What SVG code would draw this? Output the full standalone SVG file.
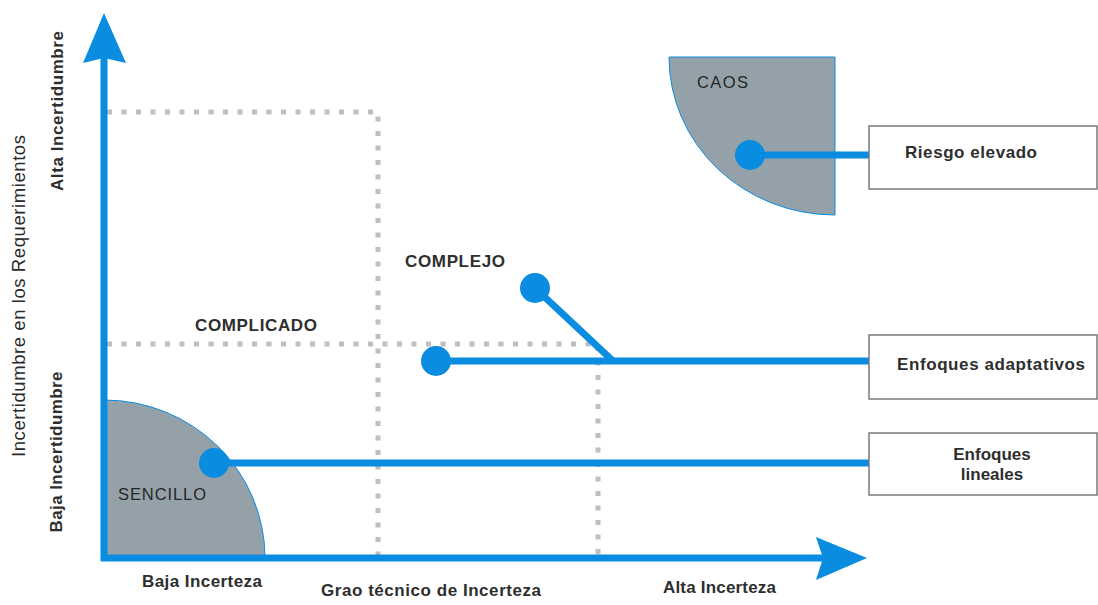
<svg xmlns="http://www.w3.org/2000/svg" width="1098" height="605" viewBox="0 0 1098 605">
<style>
.ax{stroke:#0a8ce0;stroke-width:7;fill:none}
.head{fill:#0a8ce0}
.grid{stroke:#bfbfbf;stroke-width:5;stroke-dasharray:5 9.5;fill:none}
.zone{fill:#95a1a8;stroke:#0a8ce0;stroke-width:1}
.conn{stroke:#0a8ce0;stroke-width:7;fill:none}
.dot{fill:#0a8ce0}
.box{fill:#fff;stroke:#7a7a7a;stroke-width:1.5}
.lb{font-family:"Liberation Sans",Arial,sans-serif;font-weight:bold;font-size:17px;fill:#2e2e2e}
.lr{font-family:"Liberation Sans",Arial,sans-serif;font-size:18.5px;fill:#2a2a2a}
.zn{font-family:"Liberation Sans",Arial,sans-serif;font-size:16.5px;fill:#262626}
</style>
<rect width="1098" height="605" fill="#fff"/>
<g id="zones">
  <g id="sencillo">
    <path class="zone" d="M104,400 A161,158 0 0 1 265,558 L104,558 Z"/>
    <text class="zn" x="118" y="500" textLength="88" lengthAdjust="spacing">SENCILLO</text>
  </g>
  <g id="caos">
    <path class="zone" d="M669,57 L835,57 L835,215 A166,158 0 0 1 669,57 Z"/>
    <text class="zn" x="697" y="88" textLength="51" lengthAdjust="spacing">CAOS</text>
  </g>
</g>
<g id="grid">
  <path class="grid" d="M107,112 H378 V556"/>
  <path class="grid" d="M107,344 H598 V556"/>
</g>
<g id="axes">
  <line class="ax" x1="104" y1="561" x2="104" y2="58"/>
  <polygon class="head" points="104,13 126,63 104,58 83,63"/>
  <line class="ax" x1="101" y1="558" x2="823" y2="558"/>
  <polygon class="head" points="867,558 816,580 823,558 816,537"/>
</g>
<g id="axis-labels">
  <text class="lr" transform="translate(25,296) rotate(-90)" text-anchor="middle" textLength="322" lengthAdjust="spacing">Incertidumbre en los Requerimientos</text>
  <text class="lb" transform="translate(63,111) rotate(-90)" text-anchor="middle" textLength="160" lengthAdjust="spacing">Alta Incertidumbre</text>
  <text class="lb" transform="translate(62,452) rotate(-90)" text-anchor="middle" textLength="161" lengthAdjust="spacing">Baja Incertidumbre</text>
  <text class="lb" x="142" y="587" textLength="120" lengthAdjust="spacing">Baja Incerteza</text>
  <text class="lb" x="321" y="596" textLength="220" lengthAdjust="spacing">Grao técnico de Incerteza</text>
  <text class="lb" x="663" y="593" textLength="113" lengthAdjust="spacing">Alta Incerteza</text>
  <text class="lb" x="195" y="331" textLength="122" lengthAdjust="spacing">COMPLICADO</text>
  <text class="lb" x="405" y="267" textLength="100" lengthAdjust="spacing">COMPLEJO</text>
</g>
<g id="connectors">
  <line class="conn" x1="214" y1="463" x2="869" y2="463"/>
  <line class="conn" x1="436" y1="361" x2="869" y2="361"/>
  <line class="conn" x1="535" y1="288" x2="613" y2="361"/>
  <line class="conn" x1="750" y1="155" x2="869" y2="155"/>
  <circle class="dot" cx="214" cy="463" r="15"/>
  <circle class="dot" cx="436" cy="361" r="15"/>
  <circle class="dot" cx="535" cy="288" r="15"/>
  <circle class="dot" cx="750" cy="155" r="15"/>
</g>
<g id="riesgo-elevado">
  <rect class="box" x="869" y="126" width="228" height="63"/>
  <text class="lb" x="905" y="158" textLength="132" lengthAdjust="spacing">Riesgo elevado</text>
</g>
<g id="enfoques-adaptativos">
  <rect class="box" x="869" y="335" width="228" height="64"/>
  <text class="lb" x="991" y="370" text-anchor="middle" textLength="188" lengthAdjust="spacing">Enfoques adaptativos</text>
</g>
<g id="enfoques-lineales">
  <rect class="box" x="869" y="433" width="228" height="62"/>
  <text class="lb" x="992" y="460" text-anchor="middle">Enfoques</text>
  <text class="lb" x="992" y="480" text-anchor="middle">lineales</text>
</g>
</svg>
